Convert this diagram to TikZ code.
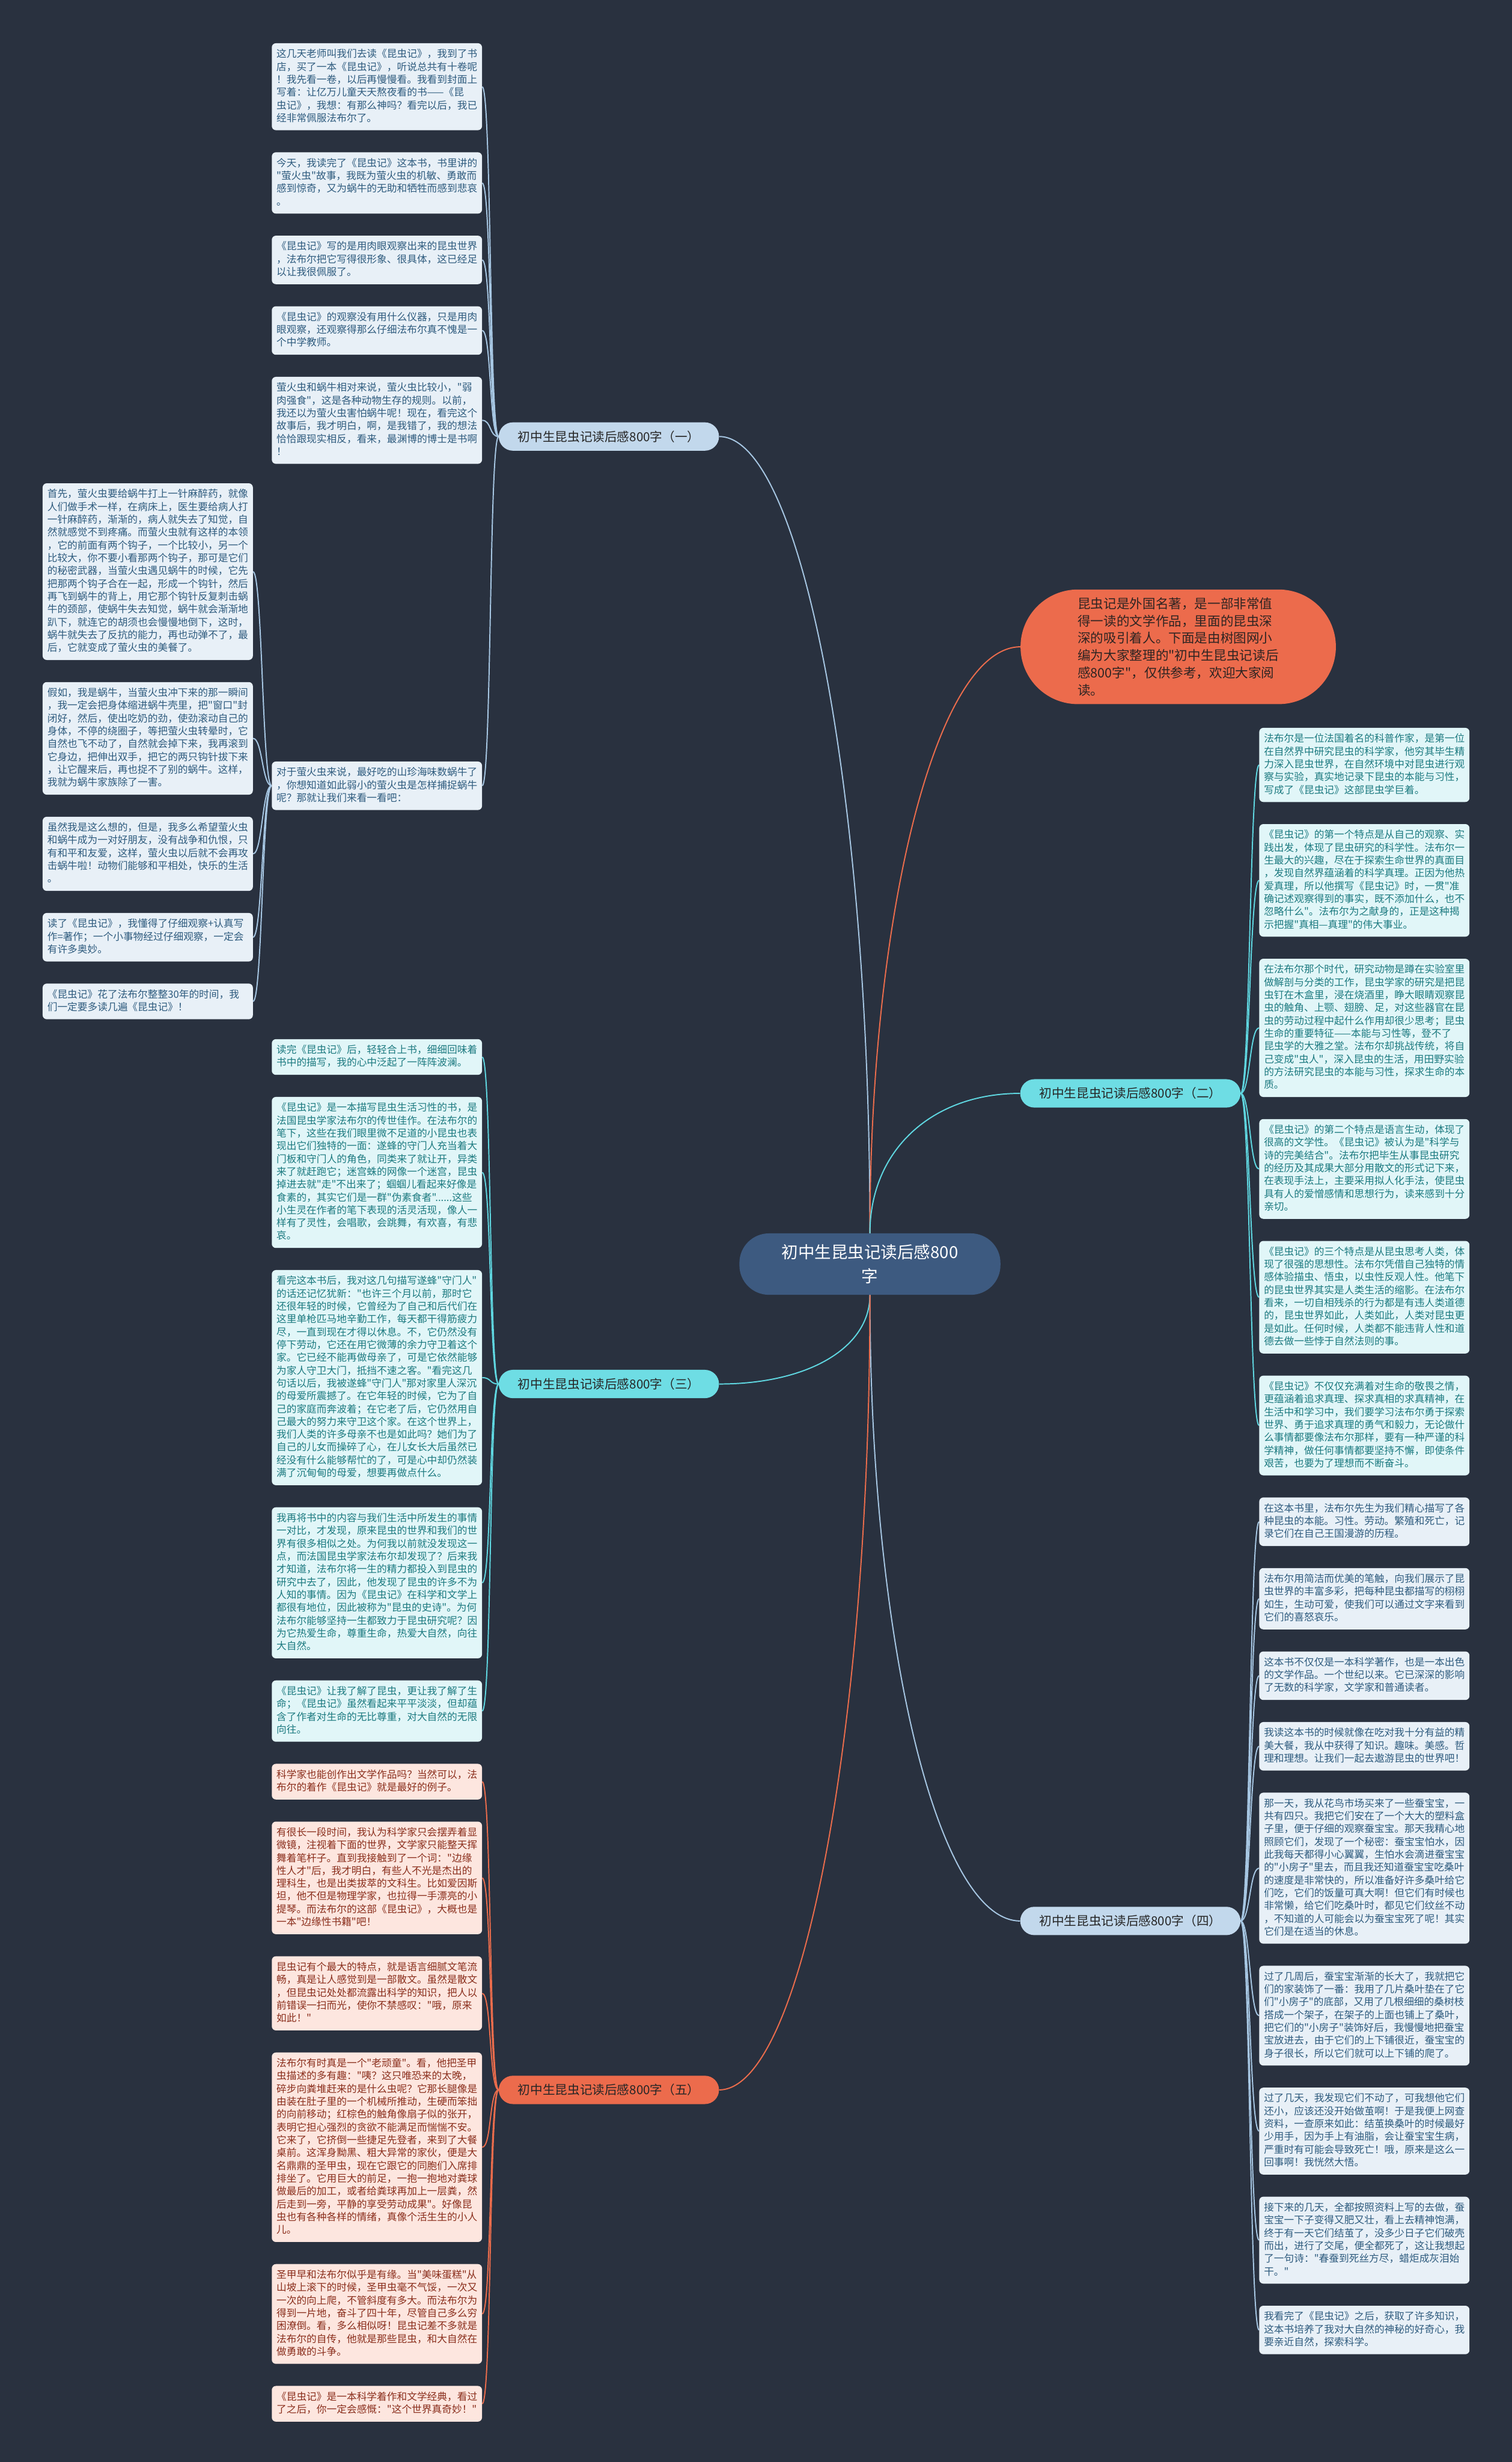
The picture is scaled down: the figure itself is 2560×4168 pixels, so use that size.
\documentclass[tikz,border=0pt]{standalone}
\usepackage{fontspec}
\newfontfamily\cjk{Noto Sans CJK SC}
\usetikzlibrary{positioning}
\pgfdeclarelayer{bg}
\pgfsetlayers{bg,main}
\definecolor{bgdark}{HTML}{29313F}
\definecolor{rootfill}{HTML}{3D5A80}
\definecolor{redfill}{HTML}{EC6B4C}
\definecolor{redink}{HTML}{2E2422}
\definecolor{fillA}{HTML}{E8F0F7}
\definecolor{inkA}{HTML}{2E5B7E}
\definecolor{fillB}{HTML}{E1F6F8}
\definecolor{inkB}{HTML}{1C7A80}
\definecolor{fillC}{HTML}{FDE6DF}
\definecolor{inkC}{HTML}{8A2E1C}
\definecolor{topicA}{HTML}{C2D8EC}
\definecolor{topicB}{HTML}{6EDDE4}
\definecolor{wireA}{HTML}{A6C6E2}
\definecolor{wireB}{HTML}{5FD6E0}
\definecolor{wireC}{HTML}{EA6C4C}
\newcommand\lnstrut{\rule[-6pt]{0pt}{21.7pt}}

\begin{document}
\begin{tikzpicture}[x=1pt, y=-1pt,
  note/.style={text width=340pt, align=left, inner xsep=8pt, inner ysep=8.5pt,
    rounded corners=7pt, font=\cjk\fontsize{17pt}{21.7pt}\selectfont,
    execute at begin node=\lnstrut, execute at end node=\lnstrut},
  noteA/.style={note, fill=fillA, text=inkA},
  noteB/.style={note, fill=fillB, text=inkB},
  noteC/.style={note, fill=fillC, text=inkC},
  topic/.style={minimum width=373pt, minimum height=48pt, inner sep=0pt, rounded corners=24pt,
    text=black!85, font=\cjk\fontsize{21pt}{25pt}\selectfont},
  wire/.style={line width=2pt}
]

% ---- centre ----
\node[fill=rootfill, text=white, rounded corners=50pt, minimum width=442pt, minimum height=104pt,
  align=center, font=\cjk\fontsize{28pt}{40pt}\selectfont] (root) at (1473,2140)
  {初中生昆虫记读后感800\\字};
\node[fill=redfill, text=redink, rounded corners=97pt, minimum width=534pt, minimum height=194pt,
  align=left, font=\cjk\fontsize{22pt}{29.3pt}\selectfont] (intro) at (1995,1095)
  {昆虫记是外国名著，是一部非常值\\
   得一读的文学作品，里面的昆虫深\\
   深的吸引着人。下面是由树图网小\\
   编为大家整理的"初中生昆虫记读后\\
   感800字"，仅供参考，欢迎大家阅\\
   读。};

% ---- topics ----
\node[topic, fill=topicA] (t1) at (1031,739) {初中生昆虫记读后感800字（一）};
\node[topic, fill=topicB] (t2) at (1914,1851) {初中生昆虫记读后感800字（二）};
\node[topic, fill=topicB] (t3) at (1031,2343) {初中生昆虫记读后感800字（三）};
\node[topic, fill=topicA] (t4) at (1914,3252) {初中生昆虫记读后感800字（四）};
\node[topic, fill=redfill] (t5) at (1031,3538) {初中生昆虫记读后感800字（五）};

% ---- branch one ----
\node[noteA, anchor=north west] (l1a) at (460,73)
  {这几天老师叫我们去读《昆虫记》，我到了书\\
   店，买了一本《昆虫记》，听说总共有十卷呢\\
   ！我先看一卷，以后再慢慢看。我看到封面上\\
   写着：让亿万儿童天天熬夜看的书——《昆\\
   虫记》，我想：有那么神吗？看完以后，我已\\
   经非常佩服法布尔了。};
\node[noteA, below=37pt of l1a] (l1b)
  {今天，我读完了《昆虫记》这本书，书里讲的\\
   "萤火虫"故事，我既为萤火虫的机敏、勇敢而\\
   感到惊奇，又为蜗牛的无助和牺牲而感到悲哀\\
   。};
\node[noteA, below=37pt of l1b] (l1c)
  {《昆虫记》写的是用肉眼观察出来的昆虫世界\\
   ，法布尔把它写得很形象、很具体，这已经足\\
   以让我很佩服了。};
\node[noteA, below=37pt of l1c] (l1d)
  {《昆虫记》的观察没有用什么仪器，只是用肉\\
   眼观察，还观察得那么仔细法布尔真不愧是一\\
   个中学教师。};
\node[noteA, below=37pt of l1d] (l1e)
  {萤火虫和蜗牛相对来说，萤火虫比较小，"弱\\
   肉强食"，这是各种动物生存的规则。以前，\\
   我还以为萤火虫害怕蜗牛呢！现在，看完这个\\
   故事后，我才明白，啊，是我错了，我的想法\\
   恰恰跟现实相反，看来，最渊博的博士是书啊\\
   ！};
\node[noteA, anchor=north west] (l1f) at (460,1289)
  {对于萤火虫来说，最好吃的山珍海味数蜗牛了\\
   ，你想知道如此弱小的萤火虫是怎样捕捉蜗牛\\
   呢？那就让我们来看一看吧：};

% ---- how the firefly does it ----
\node[noteA, anchor=north west] (f1) at (72,818)
  {首先，萤火虫要给蜗牛打上一针麻醉药，就像\\
   人们做手术一样，在病床上，医生要给病人打\\
   一针麻醉药，渐渐的，病人就失去了知觉，自\\
   然就感觉不到疼痛。而萤火虫就有这样的本领\\
   ，它的前面有两个钩子，一个比较小，另一个\\
   比较大，你不要小看那两个钩子，那可是它们\\
   的秘密武器，当萤火虫遇见蜗牛的时候，它先\\
   把那两个钩子合在一起，形成一个钩针，然后\\
   再飞到蜗牛的背上，用它那个钩针反复刺击蜗\\
   牛的颈部，使蜗牛失去知觉，蜗牛就会渐渐地\\
   趴下，就连它的胡须也会慢慢地倒下，这时，\\
   蜗牛就失去了反抗的能力，再也动弹不了，最\\
   后，它就变成了萤火虫的美餐了。};
\node[noteA, below=37pt of f1] (f2)
  {假如，我是蜗牛，当萤火虫冲下来的那一瞬间\\
   ，我一定会把身体缩进蜗牛壳里，把"窗口"封\\
   闭好，然后，使出吃奶的劲，使劲滚动自己的\\
   身体，不停的绕圈子，等把萤火虫转晕时，它\\
   自然也飞不动了，自然就会掉下来，我再滚到\\
   它身边，把伸出双手，把它的两只钩针拔下来\\
   ，让它醒来后，再也捉不了别的蜗牛。这样，\\
   我就为蜗牛家族除了一害。};
\node[noteA, below=37pt of f2] (f3)
  {虽然我是这么想的，但是，我多么希望萤火虫\\
   和蜗牛成为一对好朋友，没有战争和仇恨，只\\
   有和平和友爱，这样，萤火虫以后就不会再攻\\
   击蜗牛啦！动物们能够和平相处，快乐的生活\\
   。};
\node[noteA, below=37pt of f3] (f4)
  {读了《昆虫记》，我懂得了仔细观察+认真写\\
   作=著作；一个小事物经过仔细观察，一定会\\
   有许多奥妙。};
\node[noteA, below=37pt of f4] (f5)
  {《昆虫记》花了法布尔整整30年的时间，我\\
   们一定要多读几遍《昆虫记》！};

% ---- branch two ----
\node[noteB, anchor=north west] (l2a) at (2132,1232)
  {法布尔是一位法国着名的科普作家，是第一位\\
   在自然界中研究昆虫的科学家，他穷其毕生精\\
   力深入昆虫世界，在自然环境中对昆虫进行观\\
   察与实验，真实地记录下昆虫的本能与习性，\\
   写成了《昆虫记》这部昆虫学巨着。};
\node[noteB, below=37pt of l2a] (l2b)
  {《昆虫记》的第一个特点是从自己的观察、实\\
   践出发，体现了昆虫研究的科学性。法布尔一\\
   生最大的兴趣，尽在于探索生命世界的真面目\\
   ，发现自然界蕴涵着的科学真理。正因为他热\\
   爱真理，所以他撰写《昆虫记》时，一贯"准\\
   确记述观察得到的事实，既不添加什么，也不\\
   忽略什么"。法布尔为之献身的，正是这种揭\\
   示把握"真相—真理"的伟大事业。};
\node[noteB, below=37pt of l2b] (l2c)
  {在法布尔那个时代，研究动物是蹲在实验室里\\
   做解剖与分类的工作，昆虫学家的研究是把昆\\
   虫钉在木盒里，浸在烧酒里，睁大眼睛观察昆\\
   虫的触角、上颚、翅膀、足，对这些器官在昆\\
   虫的劳动过程中起什么作用却很少思考；昆虫\\
   生命的重要特征——本能与习性等，登不了\\
   昆虫学的大雅之堂。法布尔却挑战传统，将自\\
   己变成"虫人"，深入昆虫的生活，用田野实验\\
   的方法研究昆虫的本能与习性，探求生命的本\\
   质。};
\node[noteB, below=37pt of l2c] (l2d)
  {《昆虫记》的第二个特点是语言生动，体现了\\
   很高的文学性。《昆虫记》被认为是"科学与\\
   诗的完美结合"。法布尔把毕生从事昆虫研究\\
   的经历及其成果大部分用散文的形式记下来，\\
   在表现手法上，主要采用拟人化手法，使昆虫\\
   具有人的爱憎感情和思想行为，读来感到十分\\
   亲切。};
\node[noteB, below=37pt of l2d] (l2e)
  {《昆虫记》的三个特点是从昆虫思考人类，体\\
   现了很强的思想性。法布尔凭借自己独特的情\\
   感体验描虫、悟虫，以虫性反观人性。他笔下\\
   的昆虫世界其实是人类生活的缩影。在法布尔\\
   看来，一切自相残杀的行为都是有违人类道德\\
   的，昆虫世界如此，人类如此，人类对昆虫更\\
   是如此。任何时候，人类都不能违背人性和道\\
   德去做一些悖于自然法则的事。};
\node[noteB, below=37pt of l2e] (l2f)
  {《昆虫记》不仅仅充满着对生命的敬畏之情，\\
   更蕴涵着追求真理、探求真相的求真精神，在\\
   生活中和学习中，我们要学习法布尔勇于探索\\
   世界、勇于追求真理的勇气和毅力，无论做什\\
   么事情都要像法布尔那样，要有一种严谨的科\\
   学精神，做任何事情都要坚持不懈，即使条件\\
   艰苦，也要为了理想而不断奋斗。};

% ---- branch three ----
\node[noteB, anchor=north west] (l3a) at (460,1759)
  {读完《昆虫记》后，轻轻合上书，细细回味着\\
   书中的描写，我的心中泛起了一阵阵波澜。};
\node[noteB, below=37pt of l3a] (l3b)
  {《昆虫记》是一本描写昆虫生活习性的书，是\\
   法国昆虫学家法布尔的传世佳作。在法布尔的\\
   笔下，这些在我们眼里微不足道的小昆虫也表\\
   现出它们独特的一面：遂蜂的守门人充当着大\\
   门板和守门人的角色，同类来了就让开，异类\\
   来了就赶跑它；迷宫蛛的网像一个迷宫，昆虫\\
   掉进去就"走"不出来了；蝈蝈儿看起来好像是\\
   食素的，其实它们是一群"伪素食者"......这些\\
   小生灵在作者的笔下表现的活灵活现，像人一\\
   样有了灵性，会唱歌，会跳舞，有欢喜，有悲\\
   哀。};
\node[noteB, below=37pt of l3b] (l3c)
  {看完这本书后，我对这几句描写遂蜂"守门人"\\
   的话还记忆犹新："也许三个月以前，那时它\\
   还很年轻的时候，它曾经为了自己和后代们在\\
   这里单枪匹马地辛勤工作，每天都干得筋疲力\\
   尽，一直到现在才得以休息。不，它仍然没有\\
   停下劳动，它还在用它微薄的余力守卫着这个\\
   家。它已经不能再做母亲了，可是它依然能够\\
   为家人守卫大门，抵挡不速之客。"看完这几\\
   句话以后，我被遂蜂"守门人"那对家里人深沉\\
   的母爱所震撼了。在它年轻的时候，它为了自\\
   己的家庭而奔波着；在它老了后，它仍然用自\\
   己最大的努力来守卫这个家。在这个世界上，\\
   我们人类的许多母亲不也是如此吗？她们为了\\
   自己的儿女而操碎了心，在儿女长大后虽然已\\
   经没有什么能够帮忙的了，可是心中却仍然装\\
   满了沉甸甸的母爱，想要再做点什么。};
\node[noteB, below=37pt of l3c] (l3d)
  {我再将书中的内容与我们生活中所发生的事情\\
   一对比，才发现，原来昆虫的世界和我们的世\\
   界有很多相似之处。为何我以前就没发现这一\\
   点，而法国昆虫学家法布尔却发现了？后来我\\
   才知道，法布尔将一生的精力都投入到昆虫的\\
   研究中去了，因此，他发现了昆虫的许多不为\\
   人知的事情。因为《昆虫记》在科学和文学上\\
   都很有地位，因此被称为"昆虫的史诗"。为何\\
   法布尔能够坚持一生都致力于昆虫研究呢？因\\
   为它热爱生命，尊重生命，热爱大自然，向往\\
   大自然。};
\node[noteB, below=37pt of l3d] (l3e)
  {《昆虫记》让我了解了昆虫，更让我了解了生\\
   命；《昆虫记》虽然看起来平平淡淡，但却蕴\\
   含了作者对生命的无比尊重，对大自然的无限\\
   向往。};

% ---- branch four ----
\node[noteA, below=37pt of l2f] (l4a)
  {在这本书里，法布尔先生为我们精心描写了各\\
   种昆虫的本能。习性。劳动。繁殖和死亡，记\\
   录它们在自己王国漫游的历程。};
\node[noteA, below=37pt of l4a] (l4b)
  {法布尔用简洁而优美的笔触，向我们展示了昆\\
   虫世界的丰富多彩，把每种昆虫都描写的栩栩\\
   如生，生动可爱，使我们可以通过文字来看到\\
   它们的喜怒哀乐。};
\node[noteA, below=37pt of l4b] (l4c)
  {这本书不仅仅是一本科学著作，也是一本出色\\
   的文学作品。一个世纪以来。它已深深的影响\\
   了无数的科学家，文学家和普通读者。};
\node[noteA, below=37pt of l4c] (l4d)
  {我读这本书的时候就像在吃对我十分有益的精\\
   美大餐，我从中获得了知识。趣味。美感。哲\\
   理和理想。让我们一起去遨游昆虫的世界吧！};
\node[noteA, below=37pt of l4d] (l4e)
  {那一天，我从花鸟市场买来了一些蚕宝宝，一\\
   共有四只。我把它们安在了一个大大的塑料盒\\
   子里，便于仔细的观察蚕宝宝。那天我精心地\\
   照顾它们，发现了一个秘密：蚕宝宝怕水，因\\
   此我每天都得小心翼翼，生怕水会滴进蚕宝宝\\
   的"小房子"里去，而且我还知道蚕宝宝吃桑叶\\
   的速度是非常快的，所以准备好许多桑叶给它\\
   们吃，它们的饭量可真大啊！但它们有时候也\\
   非常懒，给它们吃桑叶时，都见它们纹丝不动\\
   ，不知道的人可能会以为蚕宝宝死了呢！其实\\
   它们是在适当的休息。};
\node[noteA, below=37pt of l4e] (l4f)
  {过了几周后，蚕宝宝渐渐的长大了，我就把它\\
   们的家装饰了一番：我用了几片桑叶垫在了它\\
   们"小房子"的底部，又用了几根细细的桑树枝\\
   搭成一个架子，在架子的上面也铺上了桑叶，\\
   把它们的"小房子"装饰好后，我慢慢地把蚕宝\\
   宝放进去，由于它们的上下铺很近，蚕宝宝的\\
   身子很长，所以它们就可以上下铺的爬了。};
\node[noteA, below=37pt of l4f] (l4g)
  {过了几天，我发现它们不动了，可我想他它们\\
   还小，应该还没开始做茧啊！于是我便上网查\\
   资料，一查原来如此：结茧换桑叶的时候最好\\
   少用手，因为手上有油脂，会让蚕宝宝生病，\\
   严重时有可能会导致死亡！哦，原来是这么一\\
   回事啊！我恍然大悟。};
\node[noteA, below=37pt of l4g] (l4h)
  {接下来的几天，全都按照资料上写的去做，蚕\\
   宝宝一下子变得又肥又壮，看上去精神饱满，\\
   终于有一天它们结茧了，没多少日子它们破壳\\
   而出，进行了交尾，便全都死了，这让我想起\\
   了一句诗："春蚕到死丝方尽，蜡炬成灰泪始\\
   干。"};
\node[noteA, below=37pt of l4h] (l4i)
  {我看完了《昆虫记》之后，获取了许多知识，\\
   这本书培养了我对大自然的神秘的好奇心，我\\
   要亲近自然，探索科学。};

% ---- branch five ----
\node[noteC, below=37pt of l3e] (l5a)
  {科学家也能创作出文学作品吗？当然可以，法\\
   布尔的着作《昆虫记》就是最好的例子。};
\node[noteC, below=37pt of l5a] (l5b)
  {有很长一段时间，我认为科学家只会摆弄着显\\
   微镜，注视着下面的世界，文学家只能整天挥\\
   舞着笔杆子。直到我接触到了一个词："边缘\\
   性人才"后，我才明白，有些人不光是杰出的\\
   理科生，也是出类拔萃的文科生。比如爱因斯\\
   坦，他不但是物理学家，也拉得一手漂亮的小\\
   提琴。而法布尔的这部《昆虫记》，大概也是\\
   一本"边缘性书籍"吧！};
\node[noteC, below=37pt of l5b] (l5c)
  {昆虫记有个最大的特点，就是语言细腻文笔流\\
   畅，真是让人感觉到是一部散文。虽然是散文\\
   ，但昆虫记处处都流露出科学的知识，把人以\\
   前错误一扫而光，使你不禁感叹："哦，原来\\
   如此！"};
\node[noteC, below=37pt of l5c] (l5d)
  {法布尔有时真是一个"老顽童"。看，他把圣甲\\
   虫描述的多有趣："咦？这只唯恐来的太晚，\\
   碎步向粪堆赶来的是什么虫呢？它那长腿像是\\
   由装在肚子里的一个机械所推动，生硬而笨拙\\
   的向前移动；红棕色的触角像扇子似的张开，\\
   表明它担心强烈的贪欲不能满足而惴惴不安。\\
   它来了，它挤倒一些捷足先登者，来到了大餐\\
   桌前。这浑身黝黑、粗大异常的家伙，便是大\\
   名鼎鼎的圣甲虫，现在它跟它的同胞们入席排\\
   排坐了。它用巨大的前足，一抱一抱地对粪球\\
   做最后的加工，或者给粪球再加上一层粪，然\\
   后走到一旁，平静的享受劳动成果"。好像昆\\
   虫也有各种各样的情绪，真像个活生生的小人\\
   儿。};
\node[noteC, below=37pt of l5d] (l5e)
  {圣甲早和法布尔似乎是有缘。当"美味蛋糕"从\\
   山坡上滚下的时候，圣甲虫毫不气馁，一次又\\
   一次的向上爬，不管斜度有多大。而法布尔为\\
   得到一片地，奋斗了四十年，尽管自己多么穷\\
   困潦倒。看，多么相似呀！昆虫记差不多就是\\
   法布尔的自传，他就是那些昆虫，和大自然在\\
   做勇敢的斗争。};
\node[noteC, below=37pt of l5e] (l5f)
  {《昆虫记》是一本科学着作和文学经典，看过\\
   了之后，你一定会感慨："这个世界真奇妙！"};

% ---- connectors ----
\begin{pgfonlayer}{bg}
\fill[bgdark] (0,0) rectangle (2560,4168);
\draw[wire, wireA] (root.north) .. controls +(0,-741) and +(140,0) .. (t1.east);
\draw[wire, wireC] (root.north) .. controls +(0,-546) and +(-141,0) .. (intro.west);
\draw[wire, wireB] (root.north) .. controls +(0,-140) and +(-150,0) .. (t2.west);
\draw[wire, wireB] (root.south) .. controls +(0,90) and +(150,0) .. (t3.east);
\draw[wire, wireA] (root.south) .. controls +(0,583) and +(-141,0) .. (t4.west);
\draw[wire, wireC] (root.south) .. controls +(0,740) and +(140,0) .. (t5.east);
\foreach \n in {l1a,l1b,l1c,l1d,l1e,l1f}
  \draw[wire, wireA] (t1.west) .. controls +(-16,0) and +(16,0) .. (\n.east);
\foreach \n in {f1,f2,f3,f4,f5}
  \draw[wire, wireA] (l1f.west) .. controls +(-16,0) and +(16,0) .. (\n.east);
\foreach \n in {l2a,l2b,l2c,l2d,l2e,l2f}
  \draw[wire, wireB] (t2.east) .. controls +(16,0) and +(-16,0) .. (\n.west);
\foreach \n in {l3a,l3b,l3c,l3d,l3e}
  \draw[wire, wireB] (t3.west) .. controls +(-16,0) and +(16,0) .. (\n.east);
\foreach \n in {l4a,l4b,l4c,l4d,l4e,l4f,l4g,l4h,l4i}
  \draw[wire, wireA] (t4.east) .. controls +(16,0) and +(-16,0) .. (\n.west);
\foreach \n in {l5a,l5b,l5c,l5d,l5e,l5f}
  \draw[wire, wireC] (t5.west) .. controls +(-16,0) and +(16,0) .. (\n.east);
\end{pgfonlayer}
\end{tikzpicture}
\end{document}
